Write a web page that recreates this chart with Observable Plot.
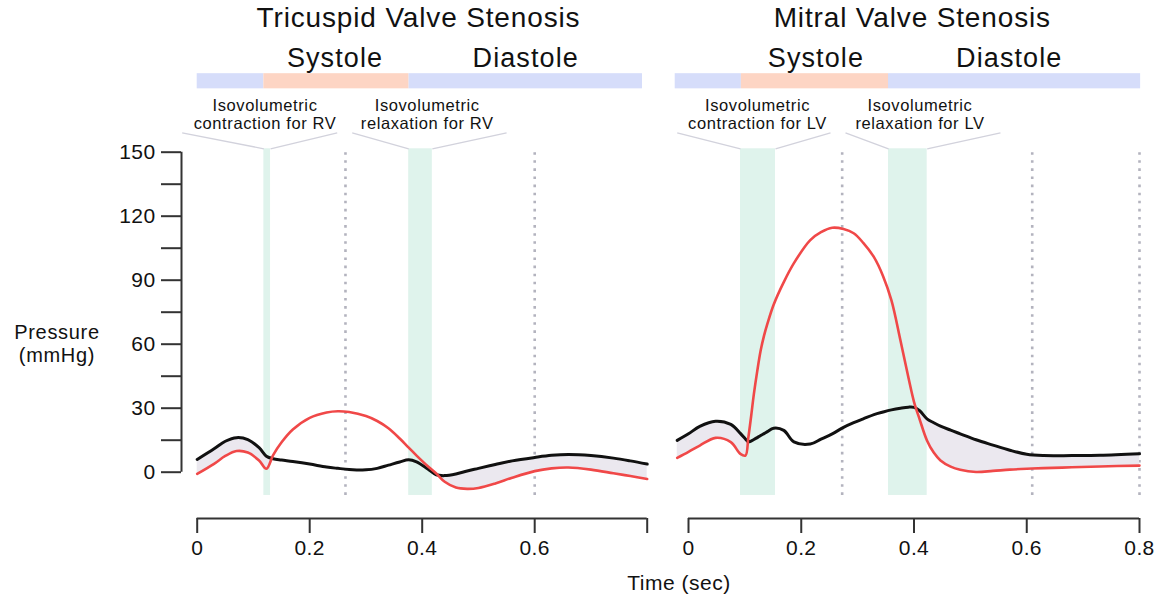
<!DOCTYPE html>
<html>
<head>
<meta charset="utf-8">
<script src="https://cdn.jsdelivr.net/npm/d3@7"></script>
<script src="https://cdn.jsdelivr.net/npm/@observablehq/plot@0.6"></script>
<style>
  body { margin: 0; background: #fff; }
  #wrap { position: relative; width: 1158px; height: 598px; font-family: "Liberation Sans", Arial, sans-serif; color: #111; overflow: hidden; }
  #wrap svg { position: absolute; left: 0; top: 0; }
  .lbl { position: absolute; font-size: 21px; letter-spacing: 0.5px; line-height: 20px; height: 20px; text-align: center; white-space: nowrap; }
  .ylbl { font-size: 20px; letter-spacing: 0.7px; }
</style>
</head>
<body>
<div id="wrap"></div>
<script>
// ---------- data ----------
const panelTitles = ["Tricuspid Valve Stenosis", "Mitral Valve Stenosis"];
const phaseNames = ["Systole", "Diastole"];
const xTicks = [0, 0.2, 0.4, 0.6, 0.8];
const yTicks = [0, 15, 30, 45, 60, 75, 90, 105, 120, 135, 150];
const yAxisLabel = ["Pressure", "(mmHg)"];
const xAxisLabel = "Time (sec)";

// Tricuspid valve stenosis: right atrium (black) and right ventricle (red)
const tricuspidTime = [0, 0.03, 0.05, 0.07, 0.09, 0.11, 0.123, 0.135, 0.15, 0.17, 0.2, 0.23, 0.25, 0.27, 0.3, 0.32, 0.34, 0.36, 0.376, 0.39, 0.41, 0.425, 0.44, 0.46, 0.48, 0.5, 0.53, 0.56, 0.6, 0.63, 0.66, 0.7, 0.74, 0.77, 0.8];
const tricuspidAtrium = [6.0, 11, 14.5, 16.2, 15.3, 11.5, 7.5, 6.3, 5.7, 5.0, 3.8, 2.4, 1.8, 1.3, 1.1, 1.8, 3.3, 4.8, 5.8, 4.8, 1.5, -1.2, -1.6, -0.8, 0.6, 1.8, 3.6, 5.3, 6.9, 7.9, 8.3, 7.8, 6.6, 5.3, 3.8];
const tricuspidVentricle = [-0.8, 3.9, 7.6, 9.9, 9.2, 5.5, 1.6, 8.0, 14, 20, 25.5, 28, 28.6, 28.2, 26.3, 24, 20.6, 15.8, 11.5, 7.8, 2.8, -0.6, -4.5, -7.2, -7.8, -7.4, -5.3, -2.6, 0.5, 1.8, 2.2, 1.2, -0.5, -1.8, -3.2];
const tricuspidPhaseBounds = [0, 0.1185, 0.3763, 0.7916];
const tricuspidPhaseKinds = ["Diastole", "Systole", "Diastole"];
const tricuspidIsoBands = [[0.1185, 0.1304], [0.376, 0.418]];
const tricuspidDotted = [0.2636, 0.6];
const tricuspidCallouts = ["Isovolumetric\ncontraction for RV", "Isovolumetric\nrelaxation for RV"];

// Mitral valve stenosis: left atrium (black) and left ventricle (red)
const mitralTime = [-0.02, 0, 0.02, 0.048, 0.075, 0.092, 0.101, 0.106, 0.111, 0.116, 0.122, 0.128, 0.134, 0.14, 0.151, 0.169, 0.187, 0.216, 0.235, 0.255, 0.275, 0.293, 0.31, 0.329, 0.345, 0.36, 0.376, 0.39, 0.4, 0.41, 0.423, 0.435, 0.447, 0.465, 0.482, 0.51, 0.54, 0.57, 0.6, 0.63, 0.68, 0.73, 0.8];
const mitralAtrium = [14.9, 18.0, 21.5, 23.9, 22.4, 18.2, 15.6, 14.3, 14.6, 15.3, 16.2, 17.2, 18.1, 19.0, 20.6, 19.6, 14.2, 13.2, 15.5, 18.0, 21.0, 23.2, 25.0, 27.0, 28.2, 29.2, 30.0, 30.5, 30.4, 28.8, 25.0, 23.2, 21.6, 19.7, 18.0, 15.2, 12.7, 10.3, 8.4, 7.8, 7.8, 7.9, 8.6];
const mitralVentricle = [6.7, 9.5, 12.5, 16.1, 14.1, 8.6, 7.8, 16, 26, 36.7, 47.5, 57, 64, 69.6, 78.5, 89.1, 98, 108.8, 112.5, 114.6, 114, 112, 107.5, 100.8, 92, 80.5, 61.7, 44.5, 33, 24.8, 14.9, 9.2, 5.5, 2.6, 1.1, 0.1, 0.6, 1.2, 1.6, 1.9, 2.3, 2.7, 3.1];
const mitralPhaseBounds = [-0.0236, 0.0938, 0.3548, 0.802];
const mitralPhaseKinds = ["Diastole", "Systole", "Diastole"];
const mitralIsoBands = [[0.0922, 0.1543], [0.3548, 0.4234]];
const mitralDotted = [0.2726, 0.6097, 0.8];
const mitralCallouts = ["Isovolumetric\ncontraction for LV", "Isovolumetric\nrelaxation for LV"];

// ---------- layout (vertical levels expressed in the pressure scale) ----------
const L = { title: 208.6, phaseText: 189.8, barLo: 179.7, barHi: 186.8, calloutText: 161, calloutTop: 159.1, bandTop: 151.6, bandBottom: -10.9, axisLine: -21.7 };
const TITLE_SIZE = 28, PHASE_SIZE = 27, CALLOUT_SIZE = 16.5, TICK_SIZE = 21;
const spacing = { [TITLE_SIZE]: 0.85, [PHASE_SIZE]: 1.1, [CALLOUT_SIZE]: 0.6, [TICK_SIZE]: 0.4 };

const panels = [
  { left: true, title: panelTitles[0], titleX: 0.3934, phaseX: [0.245, 0.584], xRange: [196.7, 646.7],
    time: tricuspidTime, atrium: tricuspidAtrium, ventricle: tricuspidVentricle,
    bounds: tricuspidPhaseBounds, kinds: tricuspidPhaseKinds, bands: tricuspidIsoBands, dotted: tricuspidDotted,
    callouts: tricuspidCallouts, calloutX: [0.1205, 0.4089], calloutEnds: [[-0.0267, 0.2489], [0.2756, 0.55]] },
  { left: false, title: panelTitles[1], titleX: 0.397, phaseX: [0.226, 0.569], xRange: [688, 1139],
    time: mitralTime, atrium: mitralAtrium, ventricle: mitralVentricle,
    bounds: mitralPhaseBounds, kinds: mitralPhaseKinds, bands: mitralIsoBands, dotted: mitralDotted,
    callouts: mitralCallouts, calloutX: [0.1224, 0.4106], calloutEnds: [[-0.020, 0.2519], [0.2785, 0.5534]] }
];

const AX = "#333";
function makePanel(p) {
  const rows = p.time.map((t, i) => ({ t, atrium: p.atrium[i], ventricle: p.ventricle[i] }));
  const phases = p.kinds.map((k, i) => ({ kind: k, x1: p.bounds[i], x2: p.bounds[i + 1] }));
  const bands = p.bands.map(([a, b]) => ({ x1: a, x2: b }));
  const links = p.bands.flatMap(([a, b], i) => [
    { x1: p.calloutEnds[i][0], y1: L.calloutTop, x2: a, y2: L.bandTop },
    { x1: b, y1: L.bandTop, x2: p.calloutEnds[i][1], y2: L.calloutTop }
  ]);
  const callouts = p.callouts.map((text, i) => ({ text, x: p.calloutX[i] }));
  const phaseLabels = phaseNames.map((name, i) => ({ name, x: p.phaseX[i] }));

  const marks = [
    Plot.rect(bands, { x1: "x1", x2: "x2", y1: L.bandBottom, y2: L.bandTop, fill: "#dff3ec" }),
    Plot.ruleX(p.dotted, { y1: L.bandBottom, y2: L.bandTop, stroke: "#b3b3be", strokeWidth: 2.6, strokeDasharray: "2.6,5.5" }),
    Plot.areaY(rows, { x: "t", y1: "ventricle", y2: d => Math.max(d.atrium, d.ventricle), fill: "#ebe8ef", curve: "catmull-rom" }),
    Plot.line(rows, { x: "t", y: "atrium", stroke: "#111", strokeWidth: 3, curve: "catmull-rom" }),
    Plot.line(rows, { x: "t", y: "ventricle", stroke: "#f04848", strokeWidth: 2.6, curve: "catmull-rom" }),
    Plot.rect(phases.filter(d => d.kind === "Diastole"), { x1: "x1", x2: "x2", y1: L.barLo, y2: L.barHi, fill: "#d6ddfa" }),
    Plot.rect(phases.filter(d => d.kind === "Systole"), { x1: "x1", x2: "x2", y1: L.barLo, y2: L.barHi, fill: "#fdd5c4" }),
    Plot.link(links, { x1: "x1", y1: "y1", x2: "x2", y2: "y2", stroke: "#d2d2dc", strokeWidth: 1.3 }),
    Plot.text([p.title], { x: p.titleX, y: L.title, text: d => d, fontSize: TITLE_SIZE, lineAnchor: "bottom", fill: "#111" }),
    Plot.text(phaseLabels, { x: "x", y: L.phaseText, text: "name", fontSize: PHASE_SIZE, lineAnchor: "bottom", fill: "#111" }),
    Plot.text(callouts, { x: "x", y: L.calloutText, text: "text", fontSize: CALLOUT_SIZE, lineAnchor: "bottom", lineHeight: 1.075, fill: "#111" }),
    Plot.ruleY([L.axisLine], { x1: 0, x2: 0.8, stroke: AX, strokeWidth: 2 }),
    Plot.axisX({ ticks: xTicks, tickSize: 15, tickPadding: 7, fontSize: TICK_SIZE, stroke: AX, strokeWidth: 2, label: null,
      tickFormat: d => (p.left && d === 0.8) ? "" : String(d) })
  ];
  if (p.left) {
    marks.push(
      Plot.ruleX([0], { y1: 0, y2: 150, dx: -15.7, stroke: AX, strokeWidth: 2 }),
      Plot.axisY({ ticks: yTicks, tickSize: 20, tickPadding: 6, fontSize: TICK_SIZE, stroke: AX, strokeWidth: 2, label: null,
        tickFormat: d => d % 30 === 0 ? String(d) : "" })
    );
  }
  const svg = Plot.plot({
    width: 1158, height: 598,
    marginLeft: p.left ? 181 : 0, marginRight: 0, marginTop: 0, marginBottom: 80,
    style: { background: "transparent", fontFamily: "Liberation Sans, Arial, sans-serif", color: "#111", overflow: "visible" },
    x: { domain: [0, 0.8], range: p.xRange },
    y: { domain: [0, 150], range: [471.7, 151.7], axis: p.left ? undefined : null },
    marks
  });
  // letter spacing per text size (Plot text has no letterSpacing option)
  svg.querySelectorAll("g[font-size]").forEach(g => {
    const s = spacing[g.getAttribute("font-size")];
    if (s !== undefined) g.style.letterSpacing = s + "px";
  });
  return svg;
}

const wrap = document.getElementById("wrap");
panels.forEach(p => wrap.appendChild(makePanel(p)));

yAxisLabel.forEach((line, i) => {
  const el = document.createElement("div");
  el.className = "lbl ylbl";
  el.style.left = "-3px"; el.style.width = "120px"; el.style.top = (322 + i * 22.5) + "px";
  el.textContent = line;
  wrap.appendChild(el);
});

const xl = document.createElement("div");
xl.className = "lbl";
xl.style.left = "619px"; xl.style.width = "120px"; xl.style.top = "573px";
xl.textContent = xAxisLabel;
wrap.appendChild(xl);
</script>
</body>
</html>
